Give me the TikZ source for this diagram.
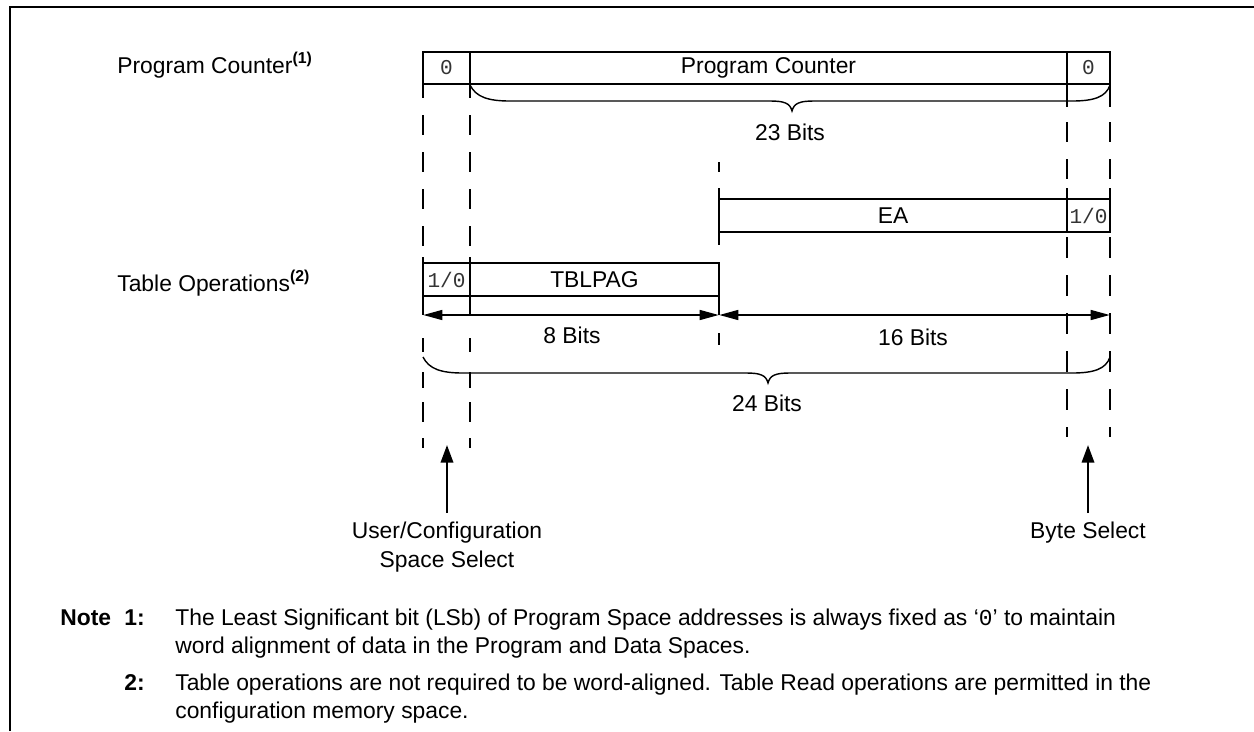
\documentclass[tikz,border=0pt]{standalone}
\usepackage{fontspec}
\setmainfont{Liberation Sans}
\setmonofont{Liberation Mono}
\usetikzlibrary{arrows.meta}

\tikzset{
  txt/.style={font=\fontsize{13}{16}\selectfont, inner sep=0pt},
  boldtxt/.style={font=\fontsize{13}{16}\selectfont\bfseries, inner sep=0pt},
  field/.style={draw, line width=1.5pt, inner sep=0pt, outer sep=0pt, font=\fontsize{13}{16}\selectfont},
  bitfield/.style={field, font=\fontsize{12}{14}\selectfont\ttfamily, text=black!80},
  guide/.style={line width=1.4pt},
  dimline/.style={line width=1.4pt, {Triangle[length=11pt,width=5.5pt]}-{Triangle[length=11pt,width=5.5pt]}},
  selarrow/.style={line width=1.4pt, -{Triangle[length=10pt,width=7pt]}},
  curly/.style={line width=0.8pt},
}

% #1 left x, #2 right x, #3 tip x, #4 top y
\newcommand{\regbrace}[4]{%
  \draw[curly] (#1,#4) .. controls (#1+6,#4+12) and (#1+18,#4+16) .. (#1+40,#4+16)
    -- (#3-22,#4+16) .. controls (#3-8,#4+16) and (#3-2,#4+18) .. (#3,#4+26)
    .. controls (#3+2,#4+18) and (#3+8,#4+16) .. (#3+22,#4+16)
    -- (#2-38,#4+16) .. controls (#2-16,#4+16) and (#2-4,#4+12) .. (#2,#4);
}
\newcommand{\noteref}[1]{\raisebox{5.5pt}{\fontsize{9}{9}\selectfont\textbf{(#1)}}}

\begin{document}
\begin{tikzpicture}[x=0.02cm, y=-0.02cm]
  \useasboundingbox (0,0) rectangle (1254,731);
  \draw[line width=1.7pt] (10,731) -- (10,7) -- (1254,7);

  % row labels
  \node[txt, anchor=base west] (pclabel) at (117,73) {Program Counter\noteref{1}};
  \node[txt, anchor=base west] (tbllabel) at (117,291) {Table Operations\noteref{2}};

  % guide lines
  \foreach \x in {423,470}
    \foreach \a/\b in {84/98,115/135,152/172,189/209,226/246,257/315,338/352,372/388,402/422,438/448}
      \draw[guide] (\x,\a) -- (\x,\b);
  \foreach \a/\b in {162/172,188/245,262/315,333/345}
    \draw[guide] (719,\a) -- (719,\b);
  \foreach \x in {1067,1110}
    \foreach \a/\b in {85/107,122/142,159/179,188/199,237/258,275/296,313/334,351/372,389/410,427/437}
      \draw[guide] (\x,\a) -- (\x,\b);

  % program counter
  \node[bitfield, minimum width=0.94cm, minimum height=0.64cm] (pcmsb) at (446.5,68) {0};
  \node[field, minimum width=11.94cm, minimum height=0.64cm] (pc) at (768.5,68) {Program Counter};
  \node[bitfield, minimum width=0.86cm, minimum height=0.64cm] (pclsb) at (1088.5,68) {0};
  \regbrace{470}{1110}{792}{85}
  \node[txt] (bits23) at (790,132) {23 Bits};

  % EA and TBLPAG
  \node[field, minimum width=6.96cm, minimum height=0.66cm] (ea) at (893,215.5) {EA};
  \node[bitfield, minimum width=0.86cm, minimum height=0.66cm] (ealsb) at (1088.5,215.5) {1/0};
  \node[bitfield, minimum width=0.94cm, minimum height=0.66cm] (tblmsb) at (446.5,279.5) {1/0};
  \node[field, minimum width=4.98cm, minimum height=0.66cm] (tbl) at (594.5,279.5) {TBLPAG};

  \coordinate (d0) at (423,315);
  \coordinate (d1) at (719,315);
  \coordinate (d2) at (1110,315);
  \draw[dimline] (d0) -- (d1);
  \draw[dimline] (d1) -- (d2);
  \node[txt] (bits8) at (572,335) {8 Bits};
  \node[txt] (bits16) at (913,337) {16 Bits};

  \regbrace{423}{1110}{768}{357}
  \node[txt] (bits24) at (767,403) {24 Bits};

  % select arrows
  \node[txt, font=\fontsize{13}{16.4}\selectfont, align=center] (usrsel) at (447,547) {User/Configuration\\Space Select};
  \node[txt] (bytesel) at (1088,533) {Byte Select};
  \coordinate (usrtip) at (447,445);
  \coordinate (bytetip) at (1088,445);
  \draw[selarrow, shorten <=5pt] (usrsel.north) -- (usrtip);
  \draw[selarrow, shorten <=5pt] (bytesel.north) -- (bytetip);

  % notes
  \node[boldtxt, anchor=base west] (notehead) at (60,625) {Note};
  \node[boldtxt, anchor=base east] (note1num) at (145,625) {1:};
  \node[boldtxt, anchor=base east] (note2num) at (145,690) {2:};
  \node[txt, anchor=base west] (note1a) at (175,625) {The Least Significant bit (LSb) of Program Space addresses is always fixed as ‘\texttt{0}’ to maintain};
  \node[txt, anchor=base west] (note1b) at (175,653) {word alignment of data in the Program and Data Spaces.};
  \node[txt, anchor=base west] (note2a) at (175,690) {Table operations are not required to be word-aligned. Table Read operations are permitted in the};
  \node[txt, anchor=base west] (note2b) at (175,718) {configuration memory space.};
\end{tikzpicture}
\end{document}
